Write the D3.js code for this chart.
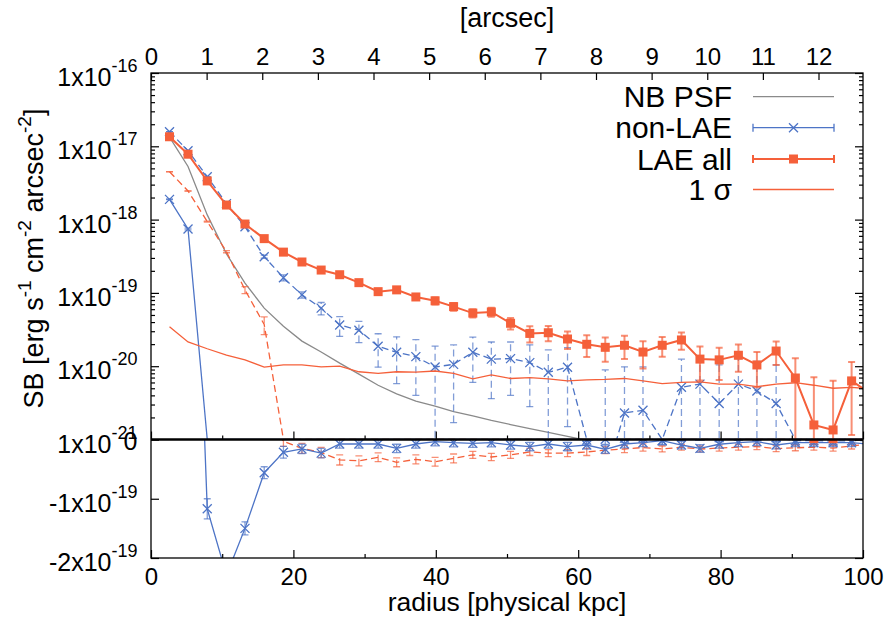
<!DOCTYPE html>
<html>
<head>
<meta charset="utf-8">
<script src="https://cdn.jsdelivr.net/npm/d3@7"></script>
<style>
body { margin: 0; background: #fff; }
svg { display: block; font-family: "Liberation Sans", Arial, Helvetica, sans-serif; }
text { white-space: pre; }
</style>
</head>
<body>
<svg id="chart" width="890" height="622"></svg>
<script>
// radii of the annuli [physical kpc]
var radius = [2.6, 5.2, 7.9, 10.6, 13.2, 15.9, 18.6, 21.2, 23.9, 26.5, 29.2, 31.9, 34.5, 37.2, 39.9, 42.5, 45.2, 47.8, 50.5, 53.2,
  55.8, 58.5, 61.2, 63.8, 66.5, 69.1, 71.8, 74.5, 77.1, 79.8, 82.5, 85.1, 87.8, 90.5, 93.1, 95.8, 98.4, 101.1];

// NB PSF profile
var psf = [1.33e-17, 5.3e-18, 1.16e-18, 3.4e-19, 1.36e-19, 6.2e-20, 3.5e-20, 2.2e-20, 1.56e-20, 1.1e-20,
  7.8e-21, 5.5e-21, 4.2e-21, 3.35e-21, 2.86e-21, 2.4e-21, 2.1e-21, 1.82e-21, 1.6e-21, 1.41e-21,
  1.25e-21, 1.1e-21, 9.7e-22, 8.6e-22, 7.7e-22, 6.9e-22, 6.2e-22, 5.6e-22, 5.1e-22, 4.6e-22,
  4.2e-22, 3.8e-22, 3.5e-22, 3.2e-22, 2.9e-22, 2.7e-22, 2.5e-22, 2.3e-22];

// LAE all
var laeAll = [1.35e-17, 7.8e-18, 3.37e-18, 1.58e-18, 8.7e-19, 5.5e-19, 3.6e-19, 2.64e-19, 2.05e-19, 1.77e-19,
  1.38e-19, 1.04e-19, 1.10e-19, 8.8e-20, 7.8e-20, 6.5e-20, 5.3e-20, 5.5e-20, 3.85e-20, 2.8e-20,
  2.86e-20, 2.35e-20, 1.99e-20, 1.81e-20, 1.93e-20, 1.56e-20, 1.93e-20, 2.28e-20, 1.25e-20, 1.22e-20,
  1.41e-20, 1.04e-20, 1.61e-20, 6.9e-21, 1.58e-21, 1.35e-21, 6.3e-21, 4.2e-21];

// 1 sigma (also the LAE all error bars)
var sigma1 = [3.46e-20, 2.14e-20, 1.73e-20, 1.42e-20, 1.22e-20, 9.7e-21, 1.04e-20, 1.04e-20, 9.8e-21, 1.0e-20,
  8.4e-21, 8.0e-21, 8.4e-21, 8.3e-21, 8.6e-21, 8.0e-21, 6.7e-21, 7.6e-21, 6.8e-21, 7.0e-21,
  6.7e-21, 6.3e-21, 6.5e-21, 6.6e-21, 6.8e-21, 6.3e-21, 5.8e-21, 6.0e-21, 6.1e-21, 5.7e-21,
  5.7e-21, 5.25e-21, 5.7e-21, 5.95e-21, 5.5e-21, 5.0e-21, 5.15e-21, 4.9e-21];

// non-LAE (solid)
var nonLae = [1.89e-18, 7.45e-19, -1.17e-19, -2.29e-19, -1.5e-19, -5.6e-20, -2.16e-20, -1.6e-20, -2.3e-20, -7.6e-21,
  -7.6e-21, -7.6e-21, -1.5e-20, -7.6e-21, -3.7e-21, -5.4e-21, -6.4e-21, -5.4e-21, -9.3e-21, -1.2e-20,
  -7.6e-21, -1.2e-20, -9.3e-21, -1.65e-20, -7.6e-21, -5.4e-21, -2e-21, -9.3e-21, -1.5e-20, -8e-21,
  -5.4e-21, -3.7e-21, -9.3e-21, -5.4e-21, -5.4e-21, -5.4e-21, -5.4e-21, -8e-21];
var nonLaeErr = [2e-20, 2e-20, 1.7e-20, 1.5e-20, 1.1e-20, 1.0e-20, 1.0e-20, 8e-21, 8e-21, 7e-21,
  7e-21, 7e-21, 7e-21, 7e-21, 7e-21, 7e-21, 7e-21, 7e-21, 7e-21, 7e-21,
  7e-21, 7e-21, 7e-21, 7e-21, 6.5e-21, 6.5e-21, 6.5e-21, 6.5e-21, 6.5e-21, 6.5e-21,
  6.5e-21, 6.5e-21, 6.5e-21, 6.5e-21, 6.5e-21, 6.5e-21, 6.5e-21, 6.5e-21];

// non-LAE (dashed, no key)
var nonLaeB = [1.58e-17, 8.7e-18, 3.85e-18, 1.65e-18, 8.0e-19, 3.12e-19, 1.61e-19, 9.4e-20, 6.2e-20, 3.65e-20,
  3.1e-20, 1.87e-20, 1.55e-20, 1.35e-20, 9.75e-21, 1.06e-20, 1.55e-20, 1.25e-20, 1.27e-20, 1.12e-20,
  8.25e-21, 9.7e-21, -1e-21, 3e-22, 2.3e-21, 2.5e-21, -2e-21, 5.15e-21, 5.7e-21, 3.1e-21,
  5.7e-21, 4.6e-21, 3.1e-21, -2e-21, -2e-21, -2.5e-21, -2e-21, -2e-21];
var nonLaeBErr = [1.5e-20, 1.5e-20, 1.5e-20, 1.5e-20, 1.5e-20, 1.5e-20, 1.5e-20, 9e-21, 1.2e-20, 1.1e-20,
  1.0e-20, 9e-21, 9.7e-21, 9.5e-21, 9e-21, 8.9e-21, 9.5e-21, 8.9e-21, 8.7e-21, 8.4e-21,
  8.4e-21, 8.2e-21, 8e-21, 8.6e-21, 7.5e-21, 7.3e-21, 7.5e-21, 7.3e-21, 7.2e-21, 7.3e-21,
  7e-21, 7e-21, 7.3e-21, 7e-21, 7e-21, 7e-21, 7e-21, 7e-21];

// LAE (dashed, no key)
var laeB = [4.5e-18, 2.46e-18, 9.4e-19, 3.65e-19, 1.1e-19, 3.7e-20, -3e-21, -1.5e-20, -2.2e-20, -3.45e-20,
  -3.6e-20, -3.0e-20, -3.85e-20, -3.35e-20, -3.75e-20, -3.2e-20, -2.6e-20, -2.95e-20, -2.6e-20, -2.1e-20,
  -2.3e-20, -2.3e-20, -2.1e-20, -1.8e-20, -1.6e-20, -1.35e-20, -1.6e-20, -1.3e-20, -1.6e-20, -1.45e-20,
  -1.3e-20, -1.2e-20, -1.55e-20, -1.4e-20, -1.3e-20, -1.45e-20, -1.1e-20, -7e-21];
var laeBErr = [1.2e-20, 1.2e-20, 1.2e-20, 1.2e-20, 1.2e-20, 1.0e-20, 8.5e-21, 8.5e-21, 8.5e-21, 8.5e-21,
  8.5e-21, 7.5e-21, 7.5e-21, 7.5e-21, 7.5e-21, 7.5e-21, 6e-21, 6e-21, 6e-21, 6e-21,
  6e-21, 6e-21, 6e-21, 6e-21, 6e-21, 6e-21, 5e-21, 5e-21, 5e-21, 5e-21,
  5e-21, 5e-21, 5e-21, 5e-21, 5e-21, 5e-21, 5e-21, 5e-21];

var xTicks = [0, 20, 40, 60, 80, 100];
var xMinor = [10, 30, 50, 70, 90];
var arcTicks = d3.range(0, 13);
var logTicks = [-21, -20, -19, -18, -17, -16];
var linTicks = [{v: 0, m: '0', e: ''}, {v: -1e-19, m: '-1x10', e: '-19'}, {v: -2e-19, m: '-2x10', e: '-19'}];
var legendNames = ['NB PSF', 'non-LAE', 'LAE all', '1 \u03c3'];

var ORANGE = '#f5603a', BLUE = '#4d74c6', GRAY = '#8a8a8a';

var svg = d3.select('#chart');
var L = 151, R = 863, T = 73, Z = 439.5, B = 558;

var x = d3.scaleLinear().domain([0, 100]).range([L, R]);
var xArc = d3.scaleLinear().domain([0, 12.8]).range([L, R]);
var yLog = d3.scaleLog().domain([1e-21, 1e-16]).range([Z, T]);
var yLin = d3.scaleLinear().domain([-2e-19, 0]).range([B, Z]);

svg.append('rect').attr('width', 890).attr('height', 622).attr('fill', '#fff');

var defs = svg.append('defs');
defs.append('clipPath').attr('id', 'clip-up').append('rect')
  .attr('x', L).attr('y', T).attr('width', R - L).attr('height', Z - T);
defs.append('clipPath').attr('id', 'clip-lo').append('rect')
  .attr('x', L).attr('y', Z).attr('width', R - L).attr('height', B - Z);

// upper panel is log, lower panel linear; negatives drop to the bottom edge up top
var panels = [
  {clip: 'clip-up', log: true, y: function(v) { return v > 0 ? yLog(v) : Z; }},
  {clip: 'clip-lo', log: false, y: function(v) { return yLin(v); }}
];

function barEnd(p, v) {
  if (p.log) return v > 0 ? yLog(v) : 2000;
  return yLin(v);
}

function drawSeries(vals, opt) {
  panels.forEach(function(p) {
    var g = svg.append('g').attr('clip-path', 'url(#' + p.clip + ')');
    var idx = d3.range(vals.length);

    if (opt.err) {
      var eb = g.append('g')
        .attr('stroke', opt.color)
        .attr('stroke-width', opt.errWidth || 1.3)
        .attr('stroke-opacity', 0.7)
        .attr('fill', 'none');
      idx.forEach(function(i) {
        var v = vals[i];
        if (p.log && v <= 0) return;
        var xi = x(radius[i]);
        var y1 = barEnd(p, v - opt.err[i]);
        var y2 = barEnd(p, v + opt.err[i]);
        eb.append('line')
          .attr('x1', xi).attr('x2', xi).attr('y1', y1).attr('y2', y2)
          .attr('stroke-dasharray', opt.dash || null);
        [y1, y2].forEach(function(yy) {
          eb.append('line')
            .attr('x1', xi - 3.5).attr('x2', xi + 3.5).attr('y1', yy).attr('y2', yy);
        });
      });
    }

    var line = d3.line()
      .x(function(i) { return x(radius[i]); })
      .y(function(i) { return p.y(vals[i]); });
    g.append('path')
      .attr('d', line(idx))
      .attr('fill', 'none')
      .attr('stroke', opt.color)
      .attr('stroke-width', opt.width || 1.3)
      .attr('stroke-dasharray', opt.dash || null);

    if (opt.marker) {
      var pts = idx.filter(function(i) { return !p.log || vals[i] > 0; });
      var mg = g.append('g');
      pts.forEach(function(i) {
        var xi = x(radius[i]), yi = p.y(vals[i]);
        if (opt.marker === 'x') {
          mg.append('path')
            .attr('d', 'M-4.5,-4.5L4.5,4.5M-4.5,4.5L4.5,-4.5')
            .attr('transform', 'translate(' + xi + ',' + yi + ')')
            .attr('stroke', opt.color).attr('stroke-width', 1.3).attr('fill', 'none');
        } else {
          mg.append('rect')
            .attr('x', xi - 4.5).attr('y', yi - 4.5).attr('width', 9).attr('height', 9)
            .attr('fill', opt.color);
        }
      });
    }
  });
}

drawSeries(psf, {color: GRAY, width: 1.3});
drawSeries(nonLaeB, {color: BLUE, dash: '7,4', err: nonLaeBErr, marker: 'x'});
drawSeries(laeB, {color: ORANGE, dash: '7,4', err: laeBErr});
drawSeries(nonLae, {color: BLUE, err: nonLaeErr, marker: 'x'});
drawSeries(sigma1, {color: ORANGE, width: 1.3});
drawSeries(laeAll, {color: ORANGE, width: 2, err: sigma1, errWidth: 2, marker: 'square'});

// axes
function tidy(g) {
  g.select('.domain').remove();
  g.selectAll('.tick line').attr('stroke', '#000').attr('stroke-width', 1.2);
  g.selectAll('text').attr('fill', '#000');
}

svg.append('g').attr('transform', 'translate(0,' + T + ')')
  .call(d3.axisTop(xArc).tickValues(arcTicks).tickSize(-7).tickPadding(8).tickFormat(d3.format('d')))
  .call(tidy)
  .call(function(g) { g.selectAll('text').attr('font-size', 24).attr('font-family', null); });

[B, Z].forEach(function(yy) {
  var ax = svg.append('g').attr('transform', 'translate(0,' + yy + ')')
    .call(d3.axisBottom(x).tickValues(xTicks).tickSize(-8).tickFormat(yy === B ? d3.format('d') : ''))
    .call(tidy);
  ax.selectAll('text').attr('dy', null).attr('y', 26.5).attr('font-size', 24).attr('font-family', null);
  svg.append('g').attr('transform', 'translate(0,' + yy + ')')
    .call(d3.axisBottom(x).tickValues(xMinor).tickSize(-4).tickFormat(''))
    .call(tidy);
});

var minors = [];
logTicks.slice(0, -1).forEach(function(e) {
  for (var k = 2; k < 10; k++) minors.push(k * Math.pow(10, e));
});
var majors = logTicks.map(function(e) { return Math.pow(10, e); });

[[L, d3.axisLeft], [R, d3.axisRight]].forEach(function(side) {
  svg.append('g').attr('transform', 'translate(' + side[0] + ',0)')
    .call(side[1](yLog).tickValues(majors).tickSize(-8).tickFormat(''))
    .call(tidy);
  svg.append('g').attr('transform', 'translate(' + side[0] + ',0)')
    .call(side[1](yLog).tickValues(minors).tickSize(-4).tickFormat(''))
    .call(tidy);
  svg.append('g').attr('transform', 'translate(' + side[0] + ',0)')
    .call(side[1](yLin).tickValues(linTicks.map(function(d) { return d.v; })).tickSize(-8).tickFormat(''))
    .call(tidy);
});

// y tick labels with superscripts
function supLabel(yy, m, e, base) {
  var t = svg.append('text')
    .attr('x', 137.5).attr('y', yy + base)
    .attr('text-anchor', 'end').attr('font-size', 25);
  t.append('tspan').text(m);
  if (e) t.append('tspan').attr('dy', -14).attr('font-size', 18).text(e);
}
logTicks.forEach(function(e) { supLabel(yLog(Math.pow(10, e)), '1x10', String(e), 13); });
linTicks.forEach(function(d) { supLabel(yLin(d.v), d.m, d.e, d.e ? 13 : 10.5); });

// frame and zero line
svg.append('rect').attr('x', L).attr('y', T).attr('width', R - L).attr('height', B - T)
  .attr('fill', 'none').attr('stroke', '#000').attr('stroke-width', 1.3);
svg.append('line').attr('x1', L).attr('x2', R).attr('y1', Z).attr('y2', Z)
  .attr('stroke', '#000').attr('stroke-width', 2.6);

// titles
svg.append('text').attr('x', (L + R) / 2).attr('y', 27).attr('text-anchor', 'middle')
  .attr('font-size', 27).text('[arcsec]');
svg.append('text').attr('x', (L + R) / 2).attr('y', 610.5).attr('text-anchor', 'middle')
  .attr('font-size', 26.5).text('radius [physical kpc]');

var yt = svg.append('text').attr('transform', 'translate(43,258.5) rotate(-90)')
  .attr('text-anchor', 'middle').attr('font-size', 27);
[['SB [erg s', 0], ['-1', 1], [' cm', 0], ['-2', 1], [' arcsec', 0], ['-2', 1], [']', 0]].forEach(function(p, i, arr) {
  var prevSup = i > 0 && arr[i - 1][1];
  var dy = p[1] ? -12 : (prevSup ? 12 : 0);
  yt.append('tspan').attr('dy', dy).attr('font-size', p[1] ? 19 : 27).text(p[0]);
});

// key
var keyY = [96.7, 127.7, 159, 189.5];
var lx1 = 753, lx2 = 834, lxm = (lx1 + lx2) / 2;
legendNames.forEach(function(name, i) {
  svg.append('text').attr('x', 732).attr('y', keyY[i] + 10.5)
    .attr('text-anchor', 'end').attr('font-size', 30).text(name);
});
svg.append('line').attr('x1', lx1).attr('x2', lx2).attr('y1', keyY[0]).attr('y2', keyY[0])
  .attr('stroke', GRAY).attr('stroke-width', 1.3);
svg.append('line').attr('x1', lx1).attr('x2', lx2).attr('y1', keyY[3]).attr('y2', keyY[3])
  .attr('stroke', ORANGE).attr('stroke-width', 1.3);
[[1, BLUE, 1.3], [2, ORANGE, 2]].forEach(function(k) {
  var yy = keyY[k[0]];
  var g = svg.append('g').attr('stroke', k[1]).attr('stroke-width', k[2]);
  g.append('line').attr('x1', lx1).attr('x2', lx2).attr('y1', yy).attr('y2', yy);
  g.append('line').attr('x1', lx1).attr('x2', lx1).attr('y1', yy - 4).attr('y2', yy + 4);
  g.append('line').attr('x1', lx2).attr('x2', lx2).attr('y1', yy - 4).attr('y2', yy + 4);
});
svg.append('path').attr('d', 'M-4.5,-4.5L4.5,4.5M-4.5,4.5L4.5,-4.5')
  .attr('transform', 'translate(' + lxm + ',' + keyY[1] + ')')
  .attr('stroke', BLUE).attr('stroke-width', 1.3).attr('fill', 'none');
svg.append('rect').attr('x', lxm - 4.5).attr('y', keyY[2] - 4.5).attr('width', 9).attr('height', 9)
  .attr('fill', ORANGE);
</script>
</body>
</html>
